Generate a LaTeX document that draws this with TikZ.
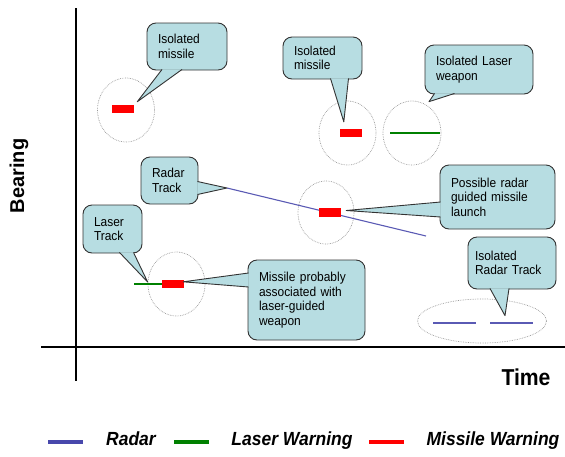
\documentclass[tikz,border=0pt]{standalone}
\usepackage{fontspec}
\setmainfont{Liberation Sans}[FakeStretch=0.92]
\newfontfamily\bearingfont{Liberation Sans}
\usepackage{xcolor}
\usepackage{tikz}
\usetikzlibrary{calc,shapes,positioning}
\definecolor{CalloutBlue}{RGB}{183,221,226}
\definecolor{RadarBlue}{RGB}{72,72,172}
\definecolor{LaserGreen}{RGB}{0,128,0}
\definecolor{MissileRed}{RGB}{255,0,0}

\begin{document}
\begin{tikzpicture} [x=1pt, y=-1pt, line join=round,
	   every node/.style={font=\fontsize{13}{14.5}\selectfont},
	   callout/.style 2 args = {rectangle, rounded corners=9pt, draw=black!80, line width=0.9pt,
	                            fill=CalloutBlue, text width=#1, minimum height=#2,
	                            inner xsep=11pt, inner ysep=2pt, align=left},
	   tail/.style = {draw=black!80, line width=0.9pt, fill=CalloutBlue},
	   missile/.style = {rectangle, fill=MissileRed, minimum width=22pt, minimum height=8pt, inner sep=0pt},
	   zone/.style 2 args = {ellipse, draw=black!40, densely dotted, line width=0.7pt,
	                         minimum width=#1, minimum height=#2, inner sep=0pt},
	   radartrack/.style = {RadarBlue!90, line width=1.1pt},
	   lasertrack/.style = {LaserGreen, line width=2pt},
	   axis/.style = {line width=2.4pt},
	   keybar/.style = {rectangle, minimum width=35pt, minimum height=4pt, inner sep=0pt},
	   keytext/.style = {font=\fontsize{19}{22}\selectfont\bfseries\itshape, text height=1.5ex, text depth=.25ex}]
	\useasboundingbox (0,0) rectangle (565,456);

	%% Axes
	\coordinate (ytop) at (76,8);
	\coordinate (ybot) at (76,381);
	\coordinate (xleft) at (41,347);
	\coordinate (xright) at (565,347);
	\draw[axis] (ytop) -- (ybot);
	\draw[axis] (xleft) -- (xright);
	\node[font=\bearingfont\fontsize{20}{24}\selectfont\bfseries, rotate=90] (bearing) at (19,176) {Bearing};
	\node[font=\fontsize{23}{26}\selectfont\bfseries] (time) at (526,377) {Time};

	%% Zones
	\node[zone={57pt}{64pt}] (e1) at (126,110) {};
	\node[zone={57pt}{64pt}] (e2) at (347.5,133) {};
	\node[zone={58pt}{64pt}] (e3) at (412,133) {};
	\node[zone={56pt}{63pt}] (e4) at (326,212.5) {};
	\node[zone={57pt}{64pt}] (e5) at (176.5,284) {};
	\node[zone={129pt}{44pt}] (e6) at (482,321) {};

	%% Tracks
	\coordinate (rA) at (227,188);
	\coordinate (rB) at (426,236);
	\draw[radartrack] (rA) -- (rB);
	\coordinate (iA) at (433,323);
	\coordinate (iB) at (476,323);
	\coordinate (iC) at (490,323);
	\coordinate (iD) at (533,323);
	\draw[radartrack] (iA) -- (iB);
	\draw[radartrack] (iC) -- (iD);
	\coordinate (lA) at (134,284);
	\coordinate (lB) at (183,284);
	\draw[lasertrack] (lA) -- (lB);
	\coordinate (wA) at (390,133);
	\coordinate (wB) at (440,133);
	\draw[lasertrack] (wA) -- (wB);

	%% Missile warnings
	\node[missile] (m1) at (123,109) {};
	\node[missile] (m2) at (351,133) {};
	\node[missile, minimum height=9pt] (m4) at (330,212.5) {};
	\node[missile] (m5) at (173,284) {};

	%% Callouts
	\node[callout={58pt}{47pt}] (c1) at (187,46.5) {Isolated\\missile};
	\draw[tail] ($(c1.south)+(-25,-1)$) -- ($(m1.north east)+(3,-3)$) -- ($(c1.south)+(-5,-1)$);

	\node[callout={57pt}{42pt}] (c2) at (322.5,58) {Isolated\\missile};
	\draw[tail] ($(c2.south)+(8,-1)$) -- ($(m2.north west)+(4,-7)$) -- ($(c2.south)+(26,-1)$);

	\node[callout={86pt}{49pt}] (c3) at (479,69.5) {Isolated Laser\\weapon};
	\draw[tail] ($(c3.south west)+(10,-1)$) -- ($(e3.north)+(17,1)$) -- ($(c3.south west)+(30,-1)$);

	\node[callout={35pt}{47pt}] (c4) at (169.5,180.5) {Radar\\Track};
	\draw[tail] ($(c4.east)+(-1,1)$) -- (rA) -- ($(c4.east)+(-1,14)$);

	\node[callout={93pt}{64pt}] (c5) at (497.5,197) {Possible radar\\guided missile\\launch};
	\draw[tail] ($(c5.west)+(1,5)$) -- ($(m4.east)+(5,-2)$) -- ($(c5.west)+(1,20)$);

	\node[callout={37pt}{48pt}] (c6) at (112.5,229) {Laser\\Track};
	\draw[tail] ($(c6.south)+(7,-1)$) -- ($(e5.west)+(0,-2)$) -- ($(c6.south)+(21,-1)$);

	\node[callout={95pt}{80pt}] (c7) at (306.5,300) {Missile probably\\associated with\\laser-guided\\weapon};
	\draw[tail] ($(c7.west)+(1,-27)$) -- ($(m5.north east)+(-1,2)$) -- ($(c7.west)+(1,-13)$);

	\node[callout={74pt}{52pt}, inner xsep=7pt] (c8) at (512,263) {Isolated\\Radar Track};
	\draw[tail] ($(c8.south)+(-22,-1)$) -- ($(e6.north)+(23,17)$) -- ($(c8.south)+(-3,-1)$);

	%% Legend
	\node[keybar, fill=RadarBlue] (keyradar) at (65,442) {};
	\node[keytext] (lgradar) at (131,442) {Radar};
	\node[keybar, fill=LaserGreen] (keylaser) at (191.5,442) {};
	\node[keytext] (lglaser) at (292,442) {Laser Warning};
	\node[keybar, fill=MissileRed] (keymissile) at (386.5,442) {};
	\node[keytext] (lgmissile) at (493,442) {Missile Warning};
\end{tikzpicture}
\end{document}
